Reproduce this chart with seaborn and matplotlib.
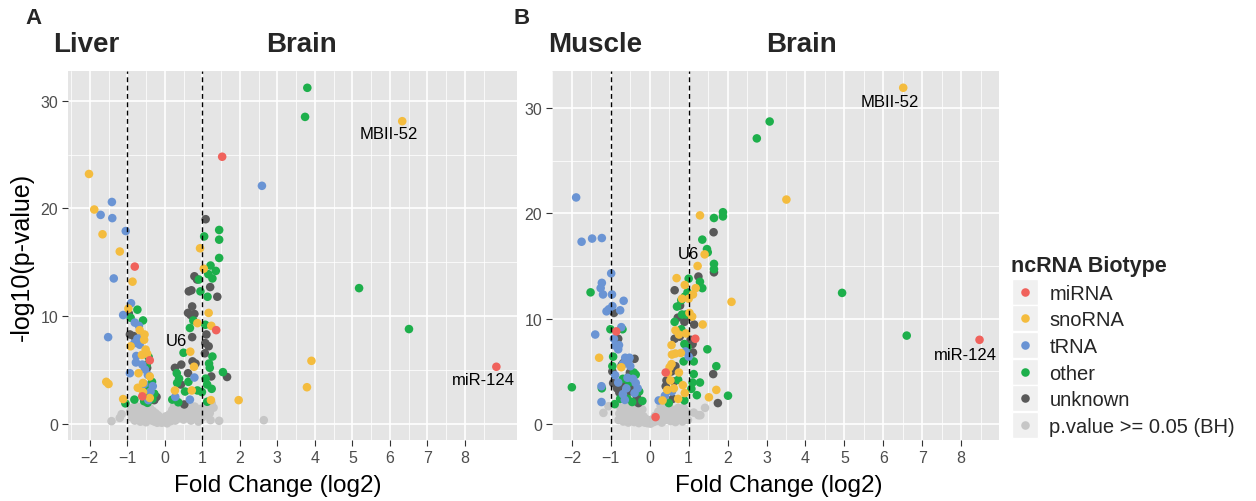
import matplotlib
matplotlib.use("Agg")
import matplotlib.pyplot as plt
import seaborn as sns
import pandas as pd
import numpy as np
from matplotlib.patches import Rectangle

# ---------------- data ----------------
CATS = ["miRNA", "snoRNA", "tRNA", "other", "unknown", "p.value >= 0.05 (BH)"]
COLORS = ["#F0625C", "#F4BC3E", "#6A94D4", "#1DAF4B", "#595959", "#C6C6C6"]
DRAW_ORDER = ["p.value >= 0.05 (BH)", "unknown", "other", "tRNA", "snoRNA", "miRNA"]

# Panel A: Liver vs Brain  (fold change log2, -log10 p)
A_mirna = [(1.53, 24.8), (-0.80, 14.6), (1.37, 8.7), (8.84, 5.3), (-0.40, 5.9), (-0.60, 2.55)]
A_snorna = [(6.33, 28.1), (-2.02, 23.2), (-1.88, 19.9), (-1.66, 17.6), (-1.20, 16.0), (-0.86, 13.2),
            (3.91, 5.85), (3.79, 3.4), (1.97, 2.2), (-1.56, 3.9), (-1.50, 3.7), (-1.11, 2.3),
            (0.94, 16.3), (1.04, 14.4), (1.17, 10.3), (1.24, 9.1), (0.87, 9.35), (0.68, 6.7),
            (0.78, 5.3), (0.27, 3.1), (0.72, 3.1), (1.23, 2.2), (-0.97, 10.7), (-0.67, 8.7),
            (-0.54, 8.3), (-0.55, 7.8), (-0.91, 7.2), (-0.51, 6.9), (-0.47, 6.5), (-0.61, 6.4),
            (-0.70, 4.7), (-0.40, 4.4), (-0.58, 3.8), (-0.72, 3.35), (-0.58, 2.95), (-0.40, 2.4)]
A_trna = [(2.59, 22.1), (-1.41, 20.6), (-1.71, 19.4), (-1.40, 19.1), (-1.04, 17.9), (-1.36, 13.5),
          (-1.51, 8.05), (0.79, 4.3), (0.28, 2.5), (0.67, 2.25), (-0.90, 11.2), (-1.11, 10.1),
          (-0.80, 9.4), (-0.69, 9.1), (-0.60, 8.2), (-0.73, 7.9), (-0.67, 7.35), (-0.81, 7.5),
          (-0.50, 6.5), (-0.76, 6.3), (-0.77, 5.7), (-0.60, 5.5), (-0.53, 5.05), (-0.93, 4.7),
          (-0.45, 4.55), (-0.55, 3.7), (-0.32, 3.5), (-0.38, 3.0), (-0.44, 2.2)]
A_other = [(3.80, 31.2), (3.74, 28.5), (5.18, 12.6), (6.51, 8.8), (-1.05, 1.9), (1.45, 18.0),
           (1.05, 17.4), (1.45, 17.1), (1.45, 15.4), (1.22, 14.7), (1.36, 14.2), (1.16, 13.9),
           (1.27, 13.5), (0.91, 13.4), (1.14, 11.8), (0.95, 12.3), (0.76, 9.6), (1.08, 9.2),
           (0.67, 8.9), (0.50, 6.6), (1.27, 6.25), (1.18, 5.6), (1.20, 5.2), (1.55, 4.8),
           (1.09, 4.2), (1.13, 3.65), (1.25, 3.25), (0.32, 4.7), (0.38, 4.2), (0.33, 3.8),
           (0.63, 3.9), (0.54, 3.0), (0.87, 3.1), (0.99, 2.95), (0.20, 2.25), (1.13, 2.05),
           (0.36, 2.0), (-0.73, 10.6), (-0.91, 9.85), (-0.58, 9.6), (-0.43, 6.2), (-0.48, 5.5),
           (-0.34, 3.9), (-0.42, 3.4), (-0.47, 2.9), (-0.28, 2.8), (-0.81, 2.25), (-0.33, 2.3),
           (-0.55, 2.1), (-0.46, 1.95)]
A_unknown = [(1.09, 19.0), (0.79, 13.7), (0.86, 13.4), (1.21, 12.7), (1.40, 11.8), (0.71, 12.4),
             (0.64, 12.3), (0.73, 10.9), (0.62, 10.3), (0.69, 10.1), (0.79, 10.2), (0.73, 8.05),
             (1.11, 8.3), (1.08, 7.5), (1.17, 7.2), (1.07, 6.55), (0.74, 5.8), (0.82, 5.6),
             (1.66, 4.35), (1.24, 4.4), (0.27, 5.2), (0.44, 5.5), (0.62, 4.7), (0.43, 3.65),
             (0.52, 1.8), (-0.96, 10.25), (-0.93, 8.3), (-0.83, 8.15), (-0.47, 5.2), (-0.22, 2.5),
             (-0.28, 2.2)]
A_ns = [(-1.42, 0.25), (-1.20, 0.55), (-1.15, 0.90), (-0.92, 1.20), (-0.88, 0.60), (-0.85, 1.50),
        (-0.82, 0.90), (-0.80, 0.30), (-0.78, 1.70), (-0.75, 1.10), (-0.72, 0.50), (-0.70, 1.40),
        (-0.68, 0.80), (-0.65, 0.20), (-0.62, 1.60), (-0.60, 1.00), (-0.58, 0.40), (-0.55, 1.30),
        (-0.52, 0.70), (-0.50, 0.15), (-0.48, 1.80), (-0.45, 1.10), (-0.42, 0.50), (-0.40, 1.50),
        (-0.38, 0.90), (-0.35, 0.30), (-0.32, 1.20), (-0.30, 0.70), (-0.27, 0.20), (-0.25, 1.00),
        (-0.22, 0.50), (-0.20, 0.10), (-0.18, 0.80), (-0.15, 0.30), (-0.12, 0.60), (-0.08, 0.10),
        (-0.05, 0.40), (0.00, 0.20), (0.03, 0.70), (0.06, 0.05), (0.10, 0.45), (0.13, 0.90),
        (0.16, 0.25), (0.20, 1.30), (0.22, 0.60), (0.25, 1.70), (0.28, 0.30), (0.30, 1.00),
        (0.33, 1.50), (0.36, 0.50), (0.40, 1.20), (0.43, 0.80), (0.46, 1.70), (0.50, 0.40),
        (0.53, 1.10), (0.56, 1.50), (0.60, 0.60), (0.63, 1.00), (0.66, 1.80), (0.70, 0.30),
        (0.73, 1.30), (0.76, 0.80), (0.80, 1.60), (0.83, 0.50), (0.86, 1.10), (0.90, 0.20),
        (0.93, 0.90), (0.96, 1.40), (1.00, 0.60), (1.05, 1.20), (1.10, 0.80), (1.11, 1.17),
        (1.15, 1.65), (1.20, 1.00), (1.22, 0.35), (1.24, 1.60), (1.25, 1.90), (1.30, 1.50),
        (1.45, 0.28), (2.64, 0.34)]

# Panel B: Muscle vs Brain
B_mirna = [(8.47, 8.0), (-0.86, 8.8), (1.17, 8.1), (0.41, 4.9), (0.15, 0.67)]
B_snorna = [(6.51, 31.9), (3.51, 21.3), (2.10, 11.6), (-1.30, 6.3), (-0.73, 5.4), (1.29, 19.8),
            (1.41, 16.1), (1.23, 15.0), (0.69, 13.85), (1.18, 12.9), (0.90, 13.2), (1.11, 12.3),
            (1.00, 11.9), (0.83, 11.9), (1.02, 10.55), (1.09, 10.2), (1.36, 9.45), (0.66, 8.9),
            (0.75, 8.5), (0.93, 8.6), (0.56, 7.5), (0.66, 6.7), (0.57, 6.6), (0.80, 6.75),
            (0.56, 5.7), (0.51, 5.4), (0.75, 4.9), (0.47, 4.85), (0.53, 4.15), (0.85, 3.7),
            (0.45, 3.25), (0.62, 3.4), (0.90, 2.95), (1.71, 3.25), (1.52, 2.55), (0.73, 2.4),
            (0.33, 2.25)]
B_trna = [(-1.89, 21.5), (-1.75, 17.3), (-1.48, 17.6), (-1.23, 17.65), (-0.99, 14.3), (-1.23, 13.4),
          (-1.26, 12.9), (-1.20, 12.3), (-0.97, 12.3), (-0.67, 11.7), (-0.96, 11.2), (-1.05, 10.9),
          (-1.11, 10.7), (-0.76, 10.8), (-1.40, 8.5), (-1.24, 3.6), (-1.24, 2.1), (-0.73, 9.2),
          (-0.92, 8.1), (-0.89, 7.45), (-0.81, 7.1), (-0.79, 7.5), (-0.63, 6.3), (-0.52, 6.3),
          (-0.55, 6.0), (-0.69, 5.7), (-0.50, 5.5), (-0.89, 4.65), (-0.57, 4.4), (-0.43, 4.3),
          (-0.81, 3.95), (-0.36, 3.9), (-0.60, 3.4), (-0.31, 3.4), (-0.39, 2.95), (-0.69, 2.85),
          (-0.64, 2.3), (0.92, 6.9), (1.00, 6.4), (0.57, 3.1), (0.39, 2.7), (0.23, 2.25)]
B_other = [(3.08, 28.7), (2.75, 27.1), (4.94, 12.45), (6.60, 8.4), (-2.00, 3.5), (-1.52, 12.5),
           (-1.23, 3.4), (-1.01, 9.0), (-0.70, 9.0), (-0.94, 6.4), (-0.96, 5.5), (-0.41, 4.9),
           (-0.36, 4.7), (-0.69, 4.3), (-0.53, 3.95), (-0.27, 3.1), (-0.76, 2.4), (-0.57, 2.4),
           (-0.19, 2.2), (-0.45, 2.1), (-0.90, 1.9), (1.65, 19.55), (1.88, 20.1), (1.88, 19.7),
           (1.35, 17.5), (1.47, 16.6), (1.49, 16.3), (1.65, 15.2), (1.65, 14.7), (1.00, 13.8),
           (1.29, 13.5), (1.35, 12.9), (0.97, 12.5), (0.90, 12.1), (0.81, 11.75), (0.70, 11.15),
           (0.83, 10.4), (0.93, 10.4), (0.64, 9.7), (0.81, 9.0), (0.89, 7.6), (0.97, 7.3),
           (1.48, 7.1), (0.87, 5.95), (1.13, 5.95), (1.71, 5.5), (1.13, 4.75), (0.73, 4.2),
           (1.10, 3.95), (1.29, 3.95), (1.07, 3.35), (1.21, 2.75), (2.01, 2.7), (0.89, 2.25),
           (0.49, 2.0)]
B_unknown = [(-0.92, 10.55), (-0.81, 8.1), (-0.39, 6.2), (-0.72, 5.6), (-0.96, 5.0), (-0.51, 4.9),
             (-0.63, 4.2), (-0.75, 3.7), (-0.84, 3.4), (-0.45, 3.6), (-0.78, 3.0), (-0.51, 3.1),
             (-0.33, 2.6), (-0.29, 2.0), (-0.68, 5.8), (-0.55, 4.45), (-0.94, 3.9), (-0.66, 2.4),
             (1.64, 18.2), (1.65, 14.4), (1.25, 14.0), (0.64, 12.7), (0.78, 11.25), (0.72, 10.1),
             (1.02, 10.2), (0.89, 9.7), (1.14, 9.45), (0.77, 8.3), (0.64, 8.1), (1.05, 8.0),
             (1.10, 7.6), (1.11, 6.8), (0.66, 5.5), (1.63, 4.75), (0.56, 5.0), (0.43, 4.15),
             (0.63, 4.05), (0.41, 3.6), (1.75, 2.0), (0.59, 2.4)]
B_ns = [(-1.19, 1.07), (-1.06, 1.70), (-0.78, 1.00), (-0.80, 0.40), (-0.76, 1.60), (-0.72, 0.95),
        (-0.68, 0.25), (-0.65, 1.40), (-0.62, 0.70), (-0.58, 1.75), (-0.55, 0.15), (-0.52, 1.10),
        (-0.49, 0.50), (-0.46, 1.55), (-0.43, 0.85), (-0.40, 0.20), (-0.37, 1.30), (-0.34, 0.60),
        (-0.31, 1.70), (-0.28, 0.10), (-0.25, 1.00), (-0.22, 0.40), (-0.19, 1.40), (-0.16, 0.75),
        (-0.13, 0.15), (-0.10, 0.50), (-0.06, 0.10), (-0.02, 0.35), (0.02, 0.05), (0.06, 0.45),
        (0.10, 0.20), (0.14, 0.80), (0.18, 0.30), (0.22, 1.20), (0.25, 0.55), (0.28, 1.75),
        (0.31, 0.15), (0.34, 0.95), (0.37, 1.50), (0.40, 0.40), (0.43, 1.15), (0.46, 0.70),
        (0.50, 1.60), (0.53, 0.30), (0.56, 1.05), (0.60, 0.55), (0.63, 1.35), (0.66, 0.20),
        (0.70, 0.90), (0.73, 1.55), (0.77, 0.50), (0.80, 1.15), (0.84, 0.25), (0.87, 1.55),
        (0.90, 0.75), (0.94, 1.20), (0.98, 0.40), (1.13, 1.10), (1.25, 0.85), (1.30, 0.85),
        (1.42, 1.55)]

A_labels = [("MBII-52", 5.98, 27.0), ("U6", 0.31, 7.7), ("miR-124", 8.49, 4.1)]
B_labels = [("MBII-52", 6.17, 30.6), ("U6", 0.99, 16.2), ("miR-124", 8.12, 6.65)]

# ---------------- style ----------------
sns.set_theme(style="darkgrid")
plt.rcParams["font.family"] = ["Liberation Sans", "DejaVu Sans"]

W, H = 1256, 502
fig = plt.figure(figsize=(W / 100, H / 100), dpi=100)
fig.patch.set_facecolor("white")


def frame(groups):
    rows = []
    for cat, pts in zip(CATS, groups):
        for fc, p in pts:
            rows.append({"fc": fc, "p": p, "type": cat})
    df = pd.DataFrame(rows)
    df["order"] = df["type"].map({c: i for i, c in enumerate(DRAW_ORDER)})
    return df.sort_values("order", kind="stable").reset_index(drop=True)


def ax_rect(left, top, right, bottom):
    return [left / W, 1 - bottom / H, (right - left) / W, (bottom - top) / H]


palette = dict(zip(CATS, COLORS))

panels = [
    (frame([A_mirna, A_snorna, A_trna, A_other, A_unknown, A_ns]), ax_rect(68, 72, 517, 441),
     (-2.58, 9.39), (-1.5, 32.76), A_labels, 278),
    (frame([B_mirna, B_snorna, B_trna, B_other, B_unknown, B_ns]), ax_rect(552, 72, 999, 441),
     (-2.51, 8.97), (-1.5, 33.49), B_labels, 779),
]

handles = labels = None
for i, (df, rect, xl, yl, labs, xlab_c) in enumerate(panels):
    ax = fig.add_axes(rect)
    ax.set_facecolor("#E5E5E5")
    sns.scatterplot(data=df, x="fc", y="p", hue="type", hue_order=CATS, palette=palette,
                    s=38, linewidth=0, edgecolor="none", alpha=1, ax=ax, legend=(i == 0), zorder=3)
    if i == 0:
        handles, labels = ax.get_legend_handles_labels()
        ax.get_legend().remove()
    for x0 in (-1, 1):
        ax.axvline(x0, color="black", lw=1.0, ls=(0, (3.5, 2.5)), zorder=4)
    for txt, tx, ty in labs:
        ax.text(tx, ty, txt, ha="center", va="center", fontsize=12, color="black", zorder=5)
    ax.set_xlim(*xl)
    ax.set_ylim(*yl)
    ax.set_xticks(range(-2, 9))
    ax.set_yticks([0, 10, 20, 30])
    ax.set_xticks(np.arange(-2.5, 9.0, 1.0), minor=True)
    ax.set_yticks([5, 15, 25], minor=True)
    ax.grid(which="major", color="white", lw=1.2)
    ax.grid(which="minor", color="white", lw=0.55)
    ax.set_axisbelow(True)
    for s in ax.spines.values():
        s.set_visible(False)
    ax.tick_params(axis="both", which="major", length=4, width=0.8, color="#333333",
                   labelcolor="#4D4D4D", labelsize=11.5, pad=3, bottom=True, left=True)
    ax.tick_params(which="minor", length=0)
    ax.set_xlabel("Fold Change (log2)", fontsize=17.5, color="black")
    ax.xaxis.set_label_coords((xlab_c - rect[0] * W) / (rect[2] * W), -(486 - 441) / (rect[3] * H))
    ax.xaxis.label.set_va("center")
    if i == 0:
        ax.set_ylabel("-log10(p-value)", fontsize=18, labelpad=5, color="black")
    else:
        ax.set_ylabel("")

# panel letters and group titles
fig.text(33 / W, 1 - 19 / H, "A", fontsize=16, fontweight="bold", ha="center", va="center")
fig.text(522 / W, 1 - 19 / H, "B", fontsize=16, fontweight="bold", ha="center", va="center")
for txt, xc in [("Liver", 86), ("Brain", 302), ("Muscle", 595), ("Brain", 801)]:
    fig.text(xc / W, 1 - 45 / H, txt, fontsize=20, fontweight="bold", ha="center", va="center")

# legend
leg = fig.legend(handles, labels, title="ncRNA Biotype", loc="upper left",
                 bbox_to_anchor=(1003 / W, 1 - 248 / H), frameon=False, fontsize=14.5,
                 title_fontproperties={"weight": "bold", "size": 15.5}, alignment="left",
                 handletextpad=0.5, labelspacing=0.38, borderaxespad=0, handlelength=1.4,
                 markerscale=1.0)
fig.canvas.draw()
renderer = fig.canvas.get_renderer()
for h in leg.legend_handles:
    bb = h.get_window_extent(renderer)
    cx, cy = (bb.x0 + bb.x1) / 2, (bb.y0 + bb.y1) / 2
    size = 26
    r = Rectangle(((cx - size / 2) / W, (cy - size / 2) / H), size / W, size / H,
                  transform=fig.transFigure, facecolor="#F0F0F0", edgecolor="white",
                  lw=1.0, zorder=0)
    fig.add_artist(r)

fig.savefig("out.png", dpi=100, facecolor="white")
